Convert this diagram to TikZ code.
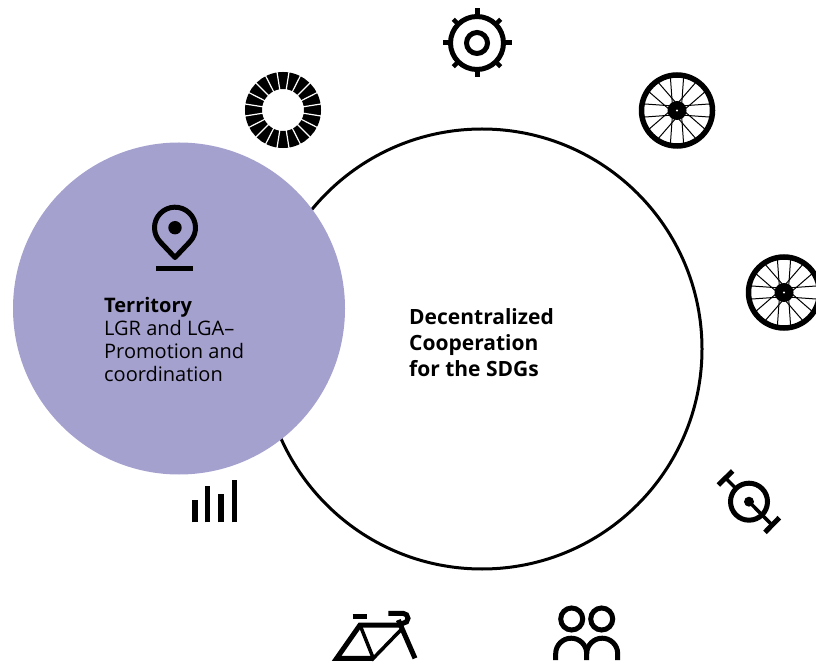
\documentclass[tikz,border=0pt]{standalone}
\usepackage{fontspec}
\setmainfont{Open Sans}
\usetikzlibrary{positioning, calc}

\definecolor{territory}{HTML}{A5A1CF}

\begin{document}
\begin{tikzpicture}[
    x=1pt, y=1pt,
    bigcircle/.style={circle, draw, line width=3pt, fill=white, minimum size=440pt, inner sep=0pt},
    areacircle/.style={circle, fill=territory, minimum size=332pt, inner sep=0pt},
    caption/.style={anchor=north west, align=left, inner sep=0pt, font=\fontsize{20}{23}\selectfont},
    icon/.style={line width=5pt},
    wheel/.pic={
        \draw[line width=5.5pt] (0,0) circle (35.5);
        \foreach \a in {0,45,...,315} {
            \draw[line width=1pt] (\a+11:35) -- (\a+36:8);
            \draw[line width=1pt] (\a-11:35) -- (\a-36:8);
        }
        \fill (0,0) circle (9.5);
        \fill[white] (0,0) circle (1.2);
    }
]
    \useasboundingbox (0,0) rectangle (816,662);
    \clip (0,0) rectangle (816,662);

    \node [bigcircle] (cooperation) at (482,313) {};
    \node [areacircle] (territory) at (179,353.5) {};

    \node [caption, font=\fontsize{21}{26}\selectfont\bfseries] (cooptext) at (409,353.5) {Decentralized\\Cooperation\\for the SDGs};
    \node [caption] (terrtext) at (104,365) {\textbf{Territory}\\LGR and LGA--\\Promotion and\\coordination};

    % pin
    \draw[icon, line join=round] (175,404.5) -- (189.87,420.2) arc (-43.5:223.5:20.5) -- cycle;
    \fill (175,434.3) circle (6.7);
    \draw[line width=5.5pt] (156,393.5) -- (193,393.5);

    % gear
    \draw[icon] (477,619) circle (26.5);
    \draw[icon] (477,619) circle (10.5);
    \foreach \a in {0,90,180,270} \draw[icon] ($(477,619)+(\a:28)$) -- ($(477,619)+(\a:34.5)$);
    \foreach \a in {45,135,225,315} \draw[line width=4.5pt] ($(477,619)+(\a:28)$) -- ($(477,619)+(\a:33.5)$);

    % ring of segments
    \draw[line width=17pt] (283,552) circle (29.5);
    \foreach \a in {0,18,...,342} \draw[white, line width=1.2pt] ($(283,552)+(\a+9:19)$) -- ($(283,552)+(\a+9:40)$);

    % wheels
    \pic at (677,551.5) {wheel};
    \pic at (784,369.5) {wheel};

    % hoop
    \draw[icon] (749,160.3) circle (18.5);
    \fill (749,160.3) circle (5);
    \draw[line width=3.5pt] (749,160.3) -- (772,137);
    \draw[line width=3.5pt] (736,173.5) -- (725.5,184);
    \draw[icon] (765,129.7) -- (779.3,144.3);
    \draw[icon] (718.3,177) -- (732.7,191);

    % bike
    \draw[icon, line join=miter] (401.7,37) -- (360,37) -- (336.7,3.7) -- (373.3,3.7);
    \draw[line width=3.5pt] (360,37) -- (373.3,3.7) -- (401.7,33);
    \draw[icon] (398.3,42) -- (415,3.7);
    \draw[icon] (352.7,45.5) -- (367.3,45.5);
    \draw[icon] (388.3,48.7) -- (403,48.7) arc (90:-90:5) -- (397,38.7);

    % people
    \draw[icon] (571.7,43) circle (11);
    \draw[icon] (601.7,43) circle (11);
    \draw[icon] (555.7,2) -- (555.7,8.3) arc (180:0:15.5) -- (586.7,2);
    \draw[icon] (586.7,8.3) arc (180:0:15.5) -- (617.7,2);

    % bars
    \foreach \x/\t in {195/162, 207.7/176, 221/167.7, 234.3/182}
        \draw[line width=5.3pt] (\x,139.7) -- (\x,\t);
\end{tikzpicture}
\end{document}
